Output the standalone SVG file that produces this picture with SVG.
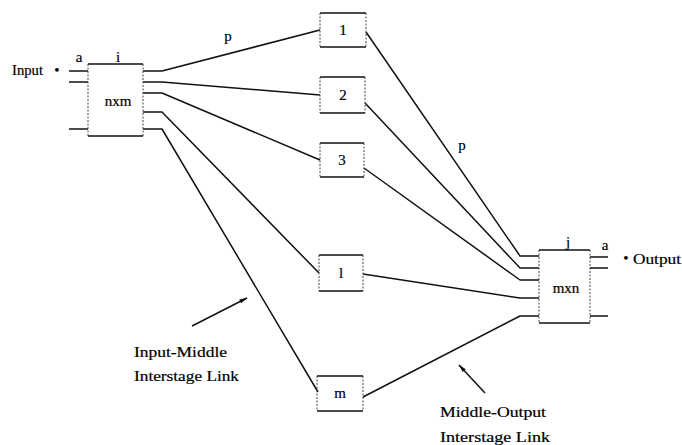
<svg xmlns="http://www.w3.org/2000/svg" width="682" height="445" viewBox="0 0 682 445">
  <style>
    .bg { fill: #ffffff; }
    .wire { fill: none; stroke: #111; stroke-width: 1.5; stroke-linejoin: round; }
    .edge { stroke: #111; stroke-width: 1.6; }
    .side { stroke: #444; stroke-width: 1; stroke-dasharray: 2 1.5; }
    .box { fill: #fff; stroke: none; }
    .t { font-family: "Liberation Serif", "Times New Roman", serif; font-size: 15px; fill: #000; stroke: #000; stroke-width: 0.2; }
    .c { text-anchor: middle; }
  </style>
  <defs>
    <marker id="arrow" viewBox="0 0 12 10" refX="11" refY="5" markerWidth="10" markerHeight="7" orient="auto" markerUnits="userSpaceOnUse">
      <path d="M0,2 L12,5 L0,8 z" fill="#111"/>
    </marker>
  </defs>
  <rect class="bg" x="0" y="0" width="682" height="445"/>

  <!-- connectors -->
  <g id="connectors">
    <!-- input stage to middle stage -->
    <polyline class="wire" points="143,71 162,71 320,30"/>
    <polyline class="wire" points="143,82 162,82 320,95"/>
    <polyline class="wire" points="143,93 162,93 320,160"/>
    <polyline class="wire" points="143,112 162,112 319,273"/>
    <polyline class="wire" points="143,129 162,129 318,392"/>
    <!-- middle stage to output stage -->
    <polyline class="wire" points="366,32 520,256 539,256"/>
    <polyline class="wire" points="365,103 520,268 539,268"/>
    <polyline class="wire" points="364,168 520,280 539,280"/>
    <polyline class="wire" points="363,274 520,298 539,298"/>
    <polyline class="wire" points="363,397 520,316 539,316"/>
    <!-- annotation arrows -->
    <line class="wire" x1="192" y1="326" x2="247" y2="298" marker-end="url(#arrow)"/>
    <line class="wire" x1="485" y1="393" x2="459" y2="365" marker-end="url(#arrow)"/>
  </g>

  <!-- input switch n x m -->
  <g id="input-switch">
    <line class="wire" x1="69" y1="71" x2="88" y2="71"/>
    <line class="wire" x1="69" y1="82" x2="88" y2="82"/>
    <line class="wire" x1="69" y1="129" x2="88" y2="129"/>
    <line class="edge" x1="88" y1="64" x2="143" y2="64"/>
    <line class="edge" x1="88" y1="136" x2="143" y2="136"/>
    <line class="side" x1="88" y1="64" x2="88" y2="136"/>
    <line class="side" x1="143" y1="64" x2="143" y2="136"/>
    <text class="t c" x="79" y="62" font-size="14">a</text>
    <text class="t c" x="118" y="62" font-size="14">i</text>
    <text class="t c" x="118" y="106">nxm</text>
    <text class="t" x="12" y="75" textLength="31" lengthAdjust="spacingAndGlyphs">Input</text>
    <text class="t c" x="57" y="75" font-size="14">•</text>
  </g>

  <!-- middle stage switches -->
  <g id="middle-1">
    <line class="edge" x1="320" y1="13" x2="366" y2="13"/>
    <line class="edge" x1="320" y1="47" x2="366" y2="47"/>
    <line class="side" x1="320" y1="13" x2="320" y2="47"/>
    <line class="side" x1="366" y1="13" x2="366" y2="47"/>
    <text class="t c" x="343" y="35">1</text>
  </g>
  <g id="middle-2">
    <line class="edge" x1="320" y1="77" x2="365" y2="77"/>
    <line class="edge" x1="320" y1="113" x2="365" y2="113"/>
    <line class="side" x1="320" y1="77" x2="320" y2="113"/>
    <line class="side" x1="365" y1="77" x2="365" y2="113"/>
    <text class="t c" x="343" y="100">2</text>
  </g>
  <g id="middle-3">
    <line class="edge" x1="320" y1="143" x2="364" y2="143"/>
    <line class="edge" x1="320" y1="177" x2="364" y2="177"/>
    <line class="side" x1="320" y1="143" x2="320" y2="177"/>
    <line class="side" x1="364" y1="143" x2="364" y2="177"/>
    <text class="t c" x="342" y="165">3</text>
  </g>
  <g id="middle-l">
    <line class="edge" x1="319" y1="255" x2="363" y2="255"/>
    <line class="edge" x1="319" y1="291" x2="363" y2="291"/>
    <line class="side" x1="319" y1="255" x2="319" y2="291"/>
    <line class="side" x1="363" y1="255" x2="363" y2="291"/>
    <text class="t c" x="341" y="278">l</text>
  </g>
  <g id="middle-m">
    <line class="edge" x1="317" y1="376" x2="363" y2="376"/>
    <line class="edge" x1="317" y1="411" x2="363" y2="411"/>
    <line class="side" x1="317" y1="376" x2="317" y2="411"/>
    <line class="side" x1="363" y1="376" x2="363" y2="411"/>
    <text class="t c" x="340" y="398">m</text>
  </g>

  <!-- output switch m x n -->
  <g id="output-switch">
    <line class="edge" x1="539" y1="250" x2="590" y2="250"/>
    <line class="edge" x1="539" y1="323" x2="590" y2="323"/>
    <line class="side" x1="539" y1="250" x2="539" y2="323"/>
    <line class="side" x1="590" y1="250" x2="590" y2="323"/>
    <line class="wire" x1="590" y1="257" x2="608" y2="257"/>
    <line class="wire" x1="590" y1="268" x2="608" y2="268"/>
    <line class="wire" x1="590" y1="316" x2="608" y2="316"/>
    <text class="t c" x="568" y="247" font-size="14">j</text>
    <text class="t c" x="605" y="250" font-size="14">a</text>
    <text class="t c" x="566" y="293">mxn</text>
    <text class="t c" x="626" y="263" font-size="14">•</text>
    <text class="t" x="633" y="264" textLength="48" lengthAdjust="spacingAndGlyphs">Output</text>
  </g>

  <!-- link labels -->
  <g id="labels">
    <text class="t c" x="228" y="41">p</text>
    <text class="t c" x="462" y="150">p</text>
    <text class="t" x="134" y="357" textLength="93" lengthAdjust="spacingAndGlyphs">Input-Middle</text>
    <text class="t" x="134" y="381" textLength="105" lengthAdjust="spacingAndGlyphs">Interstage Link</text>
    <text class="t" x="440" y="417" textLength="106" lengthAdjust="spacingAndGlyphs">Middle-Output</text>
    <text class="t" x="440" y="442" textLength="110" lengthAdjust="spacingAndGlyphs">Interstage Link</text>
  </g>
</svg>
